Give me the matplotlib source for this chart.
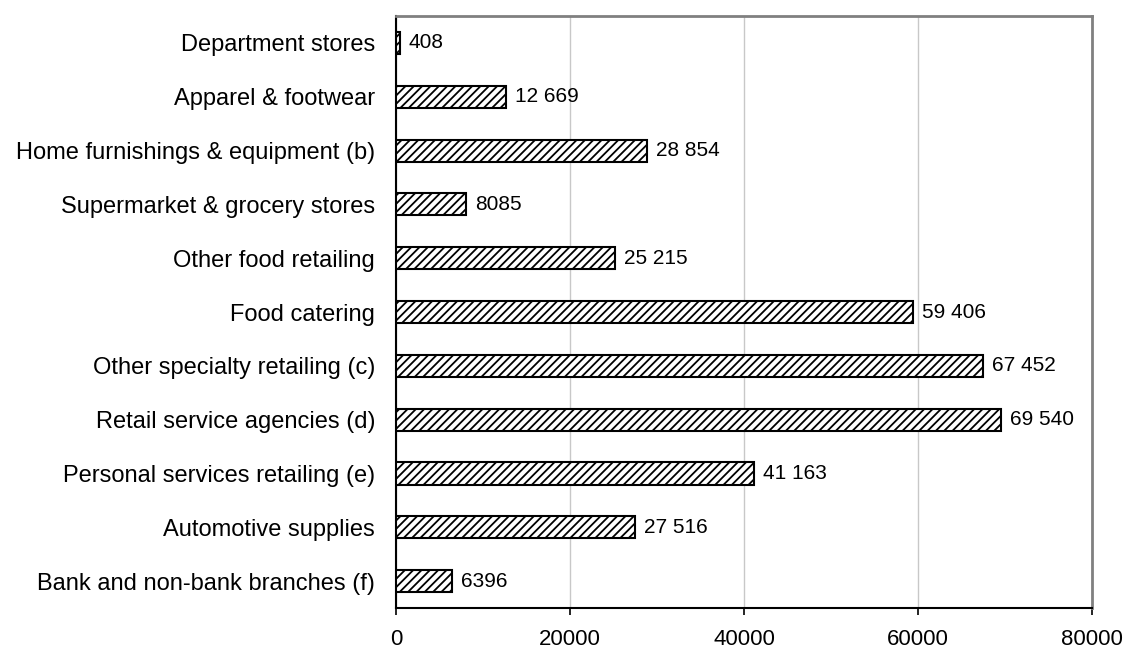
import matplotlib
matplotlib.use("Agg")
import matplotlib.pyplot as plt

# Retail categories, top to bottom as shown
categories = [
    "Department stores",
    "Apparel & footwear",
    "Home furnishings & equipment (b)",
    "Supermarket & grocery stores",
    "Other food retailing",
    "Food catering",
    "Other specialty retailing (c)",
    "Retail service agencies (d)",
    "Personal services retailing (e)",
    "Automotive supplies",
    "Bank and non-bank branches (f)",
]
values = [408, 12669, 28854, 8085, 25215, 59406, 67452, 69540, 41163, 27516, 6396]
xticks = [0, 20000, 40000, 60000, 80000]


def fmt(v):
    # thousands separated by a space only for 5+ digit numbers
    if v >= 10000:
        return f"{v:,}".replace(",", " ")
    return str(v)


plt.rcParams['font.family'] = ['Liberation Sans', 'DejaVu Sans']
plt.rcParams['hatch.linewidth'] = 1.3

fig = plt.figure(figsize=(11.25, 6.51), dpi=100)
ax = fig.add_axes([0.352, 0.066, 0.6187, 0.9094])

ypos = list(range(len(categories)))
ax.barh(ypos, values, height=0.41, color="white", edgecolor="black",
        linewidth=1.5, hatch="////", zorder=3)

for y, v in zip(ypos, values):
    ax.annotate(fmt(v), (v, y), xytext=(6.5, 0), textcoords="offset points",
                va="center", ha="left", fontsize=15, zorder=4)

ax.set_ylim(len(categories) - 0.5, -0.5)
ax.set_yticks(ypos)
ax.set_yticklabels(categories, fontsize=17)
ax.tick_params(axis="y", length=0, pad=15)

ax.set_xlim(0, 80000)
ax.set_xticks(xticks)
ax.set_xticklabels([str(t) for t in xticks], fontsize=16)
ax.tick_params(axis="x", length=5, width=1.2, direction="out", pad=10)

ax.grid(axis="x", color="#c8c8c8", linewidth=1, zorder=0)
ax.set_axisbelow(True)

ax.spines["left"].set_color("black")
ax.spines["left"].set_linewidth(1.5)
ax.spines["bottom"].set_color("black")
ax.spines["bottom"].set_linewidth(1.5)
for s in ("top", "right"):
    ax.spines[s].set_color("#808080")
    ax.spines[s].set_linewidth(2)

fig.savefig("out.png", dpi=100)
